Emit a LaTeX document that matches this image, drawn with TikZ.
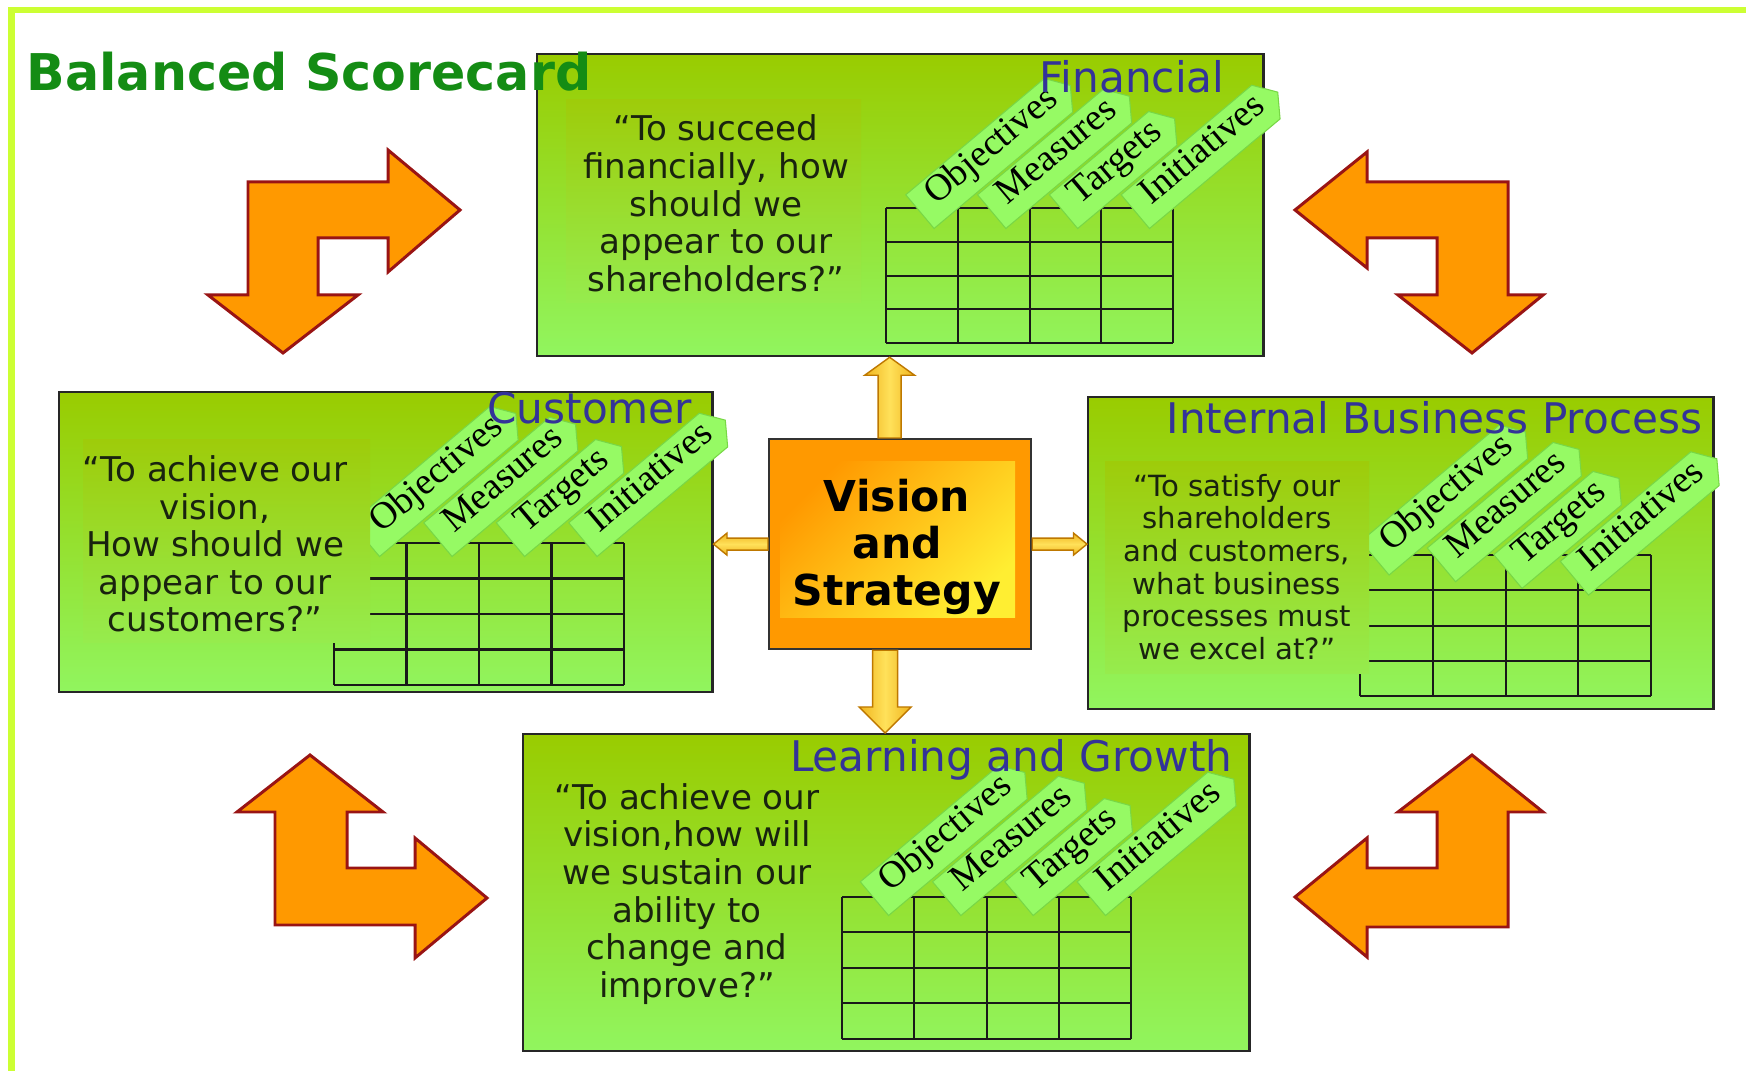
\documentclass[tikz,border=0pt]{standalone}
\usepackage{fontspec}
\setmainfont{DejaVu Sans}
\newfontfamily\tabfont{Liberation Serif}
\usetikzlibrary{calc,shapes.symbols}

\definecolor{framegreen}{RGB}{204,255,51}
\definecolor{titlegreen}{RGB}{20,140,20}
\definecolor{headblue}{RGB}{51,51,153}
\definecolor{boxtop}{RGB}{153,204,0}
\definecolor{boxbottom}{RGB}{145,245,95}
\definecolor{bgtop}{RGB}{158,204,10}
\definecolor{bgbottom}{RGB}{150,236,78}
\definecolor{tabgreen}{RGB}{150,250,100}
\definecolor{tabedge}{RGB}{120,215,70}
\definecolor{bentfill}{RGB}{255,153,0}
\definecolor{bentdraw}{RGB}{153,20,20}
\definecolor{visorange}{RGB}{255,153,0}
\definecolor{visyellow}{RGB}{255,238,50}
\definecolor{ygold}{RGB}{240,180,30}
\definecolor{ylight}{RGB}{255,225,90}
\definecolor{ydraw}{RGB}{190,120,0}
\definecolor{quotetext}{RGB}{25,35,15}

\tikzset{%
  perspective/.style={
    draw=black!85, line width=0.6pt,
    top color=boxtop, bottom color=boxbottom,
    anchor=north west, inner sep=0pt
  },
  heading/.style={
    font=\fontsize{12}{14}\selectfont, text=headblue,
    anchor=base east, inner sep=0pt
  },
  question/.style={
    font=\fontsize{9.7}{10.7}\selectfont, text=quotetext,
    align=center, inner sep=0pt
  },
  small question/.style={
    question, font=\fontsize{8.3}{9.3}\selectfont
  },
  quotebg/.style={
    top color=bgtop, bottom color=bgbottom
  },
  gridline/.style={
    draw=black!90, line width=0.6pt
  },
  tab/.style={
    shape=signal, signal to=east, signal pointer angle=110,
    fill=tabgreen, draw=tabedge, line width=0.3pt,
    font=\tabfont\fontsize{10.7}{12}\selectfont,
    minimum height=0.44cm, text height=0.28cm, text depth=0.16cm,
    inner xsep=0.04cm, inner ysep=0pt,
    execute at begin node=\hspace*{0.12cm},
    rotate=40, anchor=west
  },
  bent/.style={
    fill=bentfill, draw=bentdraw, line width=0.85pt, line join=miter
  },
  yarrow v/.style={
    left color=ygold, right color=ygold, middle color=ylight,
    draw=ydraw, line width=0.4pt, line join=miter
  },
  yarrow h/.style={
    top color=ygold, bottom color=ygold, middle color=ylight,
    draw=ydraw, line width=0.4pt, line join=miter
  },
}

\begin{document}
\begin{tikzpicture}[x=0.01cm, y=-0.01cm]

\useasboundingbox (0,0) rectangle (1746,1071);
\fill[white] (0,0) rectangle (1746,1071);

% the four perspectives
\node [perspective, minimum width=7.26cm, minimum height=3.02cm] (fin) at (536,53) {};
\node [perspective, minimum width=6.53cm, minimum height=3.00cm] (cust) at (58,391) {};
\node [perspective, minimum width=6.25cm, minimum height=3.12cm] (ibp) at (1087,396) {};
\node [perspective, minimum width=7.26cm, minimum height=3.17cm] (learn) at (522,733) {};

% tables
\foreach \gx/\gy/\cw/\rh in {886/208/71.8/33.8, 334/543/72.5/35.5, 1360/555/72.8/35.3, 842/897/72.3/35.4} {
  \foreach \i in {0,...,4}
    \draw [gridline] (\gx+\i*\cw,\gy) -- ++(0,4*\rh);
  \foreach \j in {0,...,4}
    \draw [gridline] (\gx,\gy+\j*\rh) -- ++(4*\cw,0);
}

% column tabs
\foreach \b/\tx/\ty/\sx/\sy in {fin/919.5/212/71.8/0, cust/365/540/72.5/0, ibp/1374.5/558.5/66.5/6.7, learn/874/899/72.3/0}
  \foreach \t [count=\i from 0] in {Objectives,Measures,Targets,Initiatives}
    \node [tab] (\b-\t) at (\tx+\i*\sx,\ty+\i*\sy) {\t};

% questions
\path [quotebg] (566,100) rectangle (861,303);
\path [quotebg] (83,440) rectangle (370,643);
\path [quotebg] (1105,462) rectangle (1369,674);

\node [question] (fin-q) at (716,203.5)
  {“To succeed\\financially, how\\should we\\appear to our\\shareholders?”};
\node [question] (cust-q) at (215,544)
  {“To achieve our\\vision,\\How should we\\appear to our\\customers?”};
\node [small question] (ibp-q) at (1237,567)
  {“To satisfy our\\shareholders\\and customers,\\what business\\processes must\\we excel at?”};
\node [question] (learn-q) at (687,894)
  {“To achieve our\\vision,how will\\we sustain our\\ability to\\change and\\improve?”};

\node [heading] (fin-h) at (1225,93) {Financial};
\node [heading] (cust-h) at (693,424) {Customer};
\node [heading] (ibp-h) at (1703,434) {Internal Business Process};
\node [heading] (learn-h) at (1233,772) {Learning and Growth};

% vision and strategy
\node [draw=black!80, line width=0.6pt, fill=visorange, anchor=north west,
  minimum width=2.62cm, minimum height=2.10cm, inner sep=0pt] (vision) at (768,438) {};
\shade [top color=visorange, bottom color=visyellow, shading angle=45] (780,462) rectangle (1015,618);
\node [font=\fontsize{12.1}{13.4}\selectfont\bfseries, align=center] (vision-l) at (897,547)
  {Vision\\and\\Strategy};

\coordinate (up-foot) at ($(vision.north)+(-10.5,0)$);
\coordinate (up-tip) at (up-foot |- fin.south);
\draw [yarrow v] ($(up-foot)+(-11.5,0)$) -- ($(up-tip)+(-11.5,18)$) -- ($(up-tip)+(-25,18)$)
  -- (up-tip) -- ($(up-tip)+(25,18)$) -- ($(up-tip)+(11.5,18)$) -- ($(up-foot)+(11.5,0)$) -- cycle;

\coordinate (down-foot) at ($(vision.south)+(-15,0)$);
\coordinate (down-tip) at (down-foot |- learn.north);
\draw [yarrow v] ($(down-foot)+(-12.5,0)$) -- ($(down-tip)+(-12.5,-26)$) -- ($(down-tip)+(-26,-26)$)
  -- (down-tip) -- ($(down-tip)+(26,-26)$) -- ($(down-tip)+(12.5,-26)$) -- ($(down-foot)+(12.5,0)$) -- cycle;

\coordinate (left-tip) at (vision.west -| cust.east);
\draw [yarrow h] ($(vision.west)+(0,-6)$) -- ($(left-tip)+(13.5,-6)$) -- ($(left-tip)+(13.5,-11)$)
  -- (left-tip) -- ($(left-tip)+(13.5,11)$) -- ($(left-tip)+(13.5,6)$) -- ($(vision.west)+(0,6)$) -- cycle;

\coordinate (right-tip) at (vision.east -| ibp.west);
\draw [yarrow h] ($(vision.east)+(0,-6)$) -- ($(right-tip)+(-13.5,-6)$) -- ($(right-tip)+(-13.5,-11)$)
  -- (right-tip) -- ($(right-tip)+(-13.5,11)$) -- ($(right-tip)+(-13.5,6)$) -- ($(vision.east)+(0,6)$) -- cycle;

% bent arrows in the corners
\draw [bent] (248,182) -- (388,182) -- (388,150) -- (460,210) -- (388,272) -- (388,238) -- (318,238)
  -- (318,295) -- (358,295) -- (283,353) -- (208,295) -- (248,295) -- cycle;
\draw [bent] (1295,210) -- (1367,152) -- (1367,182) -- (1508,182) -- (1508,295) -- (1543,295) -- (1472,353)
  -- (1398,295) -- (1437,295) -- (1437,238) -- (1367,238) -- (1367,268) -- cycle;
\draw [bent] (310,755) -- (383,812) -- (347,812) -- (347,868) -- (415,868) -- (415,838) -- (487,898)
  -- (415,958) -- (415,925) -- (275,925) -- (275,812) -- (237,812) -- cycle;
\draw [bent] (1472,755) -- (1543,812) -- (1508,812) -- (1508,927) -- (1367,927) -- (1367,957) -- (1295,897)
  -- (1367,838) -- (1367,868) -- (1437,868) -- (1437,812) -- (1398,812) -- cycle;

\node [font=\fontsize{14.4}{17}\selectfont\bfseries, text=titlegreen, anchor=base west, inner sep=0pt]
  (title) at (26,91) {Balanced Scorecard};

\draw [framegreen, line width=0.06cm, line join=miter] (11.5,1071) -- (11.5,10.5) -- (1746,10.5);

\end{tikzpicture}
\end{document}
